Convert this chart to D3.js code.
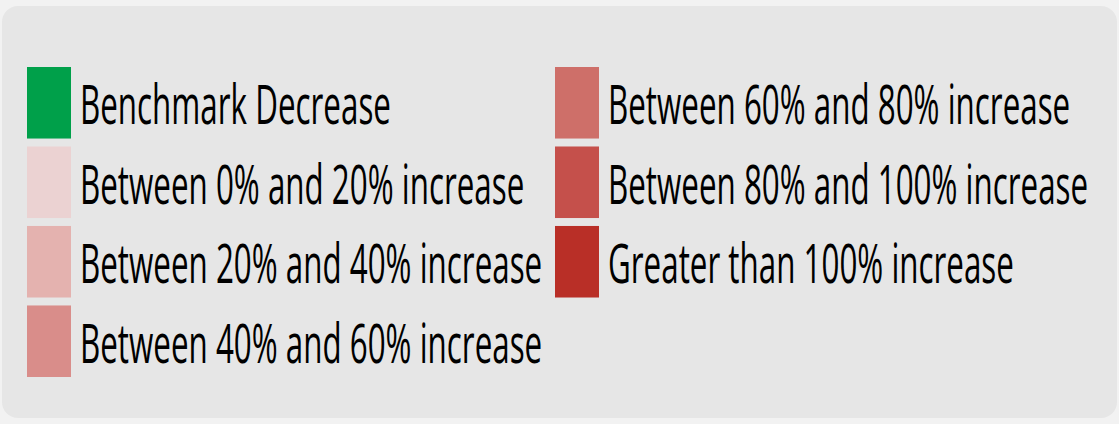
<!DOCTYPE html>
<html><head><meta charset="utf-8">
<script src="https://cdn.jsdelivr.net/npm/d3@7"></script>
<style>
html,body{margin:0;padding:0;background:#f2f2f2;}
svg{display:block;}
</style></head>
<body>
<svg id="chart" width="1119" height="424"></svg>
<script>
const categories = [
  "Benchmark Decrease",
  "Between 0% and 20% increase",
  "Between 20% and 40% increase",
  "Between 40% and 60% increase",
  "Between 60% and 80% increase",
  "Between 80% and 100% increase",
  "Greater than 100% increase"
];
const colors = ["#00a04a","#ebd2d2","#e4b2af","#d98d8a","#ce6f69","#c5504b","#b92f27"];
const columns = [0,0,0,0,1,1,1];
const rows = [0,1,2,3,0,1,2];

const svg = d3.select("#chart");
svg.append("rect").attr("x",2).attr("y",6).attr("width",1115).attr("height",412)
  .attr("rx",16).attr("fill","#e6e6e6");

const xCol = d3.scaleOrdinal().domain([0,1]).range([27,555]);
const yRow = d3.scaleBand().domain([0,1,2,3]).range([67,377]).paddingInner(0.1).paddingOuter(0);

const items = categories.map((c,i)=>({label:c,color:colors[i],col:columns[i],row:rows[i]}));
const g = svg.selectAll("g.item").data(items).enter().append("g").attr("class","item")
  .attr("transform",d=>`translate(${xCol(d.col)},${yRow(d.row)})`);
g.append("rect").attr("width",44).attr("height",yRow.bandwidth()).attr("fill",d=>d.color);
const fs = 54;
const txt = g.append("text").attr("font-family","'Open Sans'").attr("font-size",fs)
  .attr("fill","#000")
  .attr("y", yRow.bandwidth()/2 + fs*0.714/2 + 2);
txt.append("tspan").text(d=>d.label);
// uniform horizontal condensing to match reference overall text width
let total = 0;
txt.each(function(){ total += this.getComputedTextLength(); });
const sx = 3029 / total;
txt.attr("transform",`translate(53,0) scale(${sx},1)`);
</script>
</body></html>
